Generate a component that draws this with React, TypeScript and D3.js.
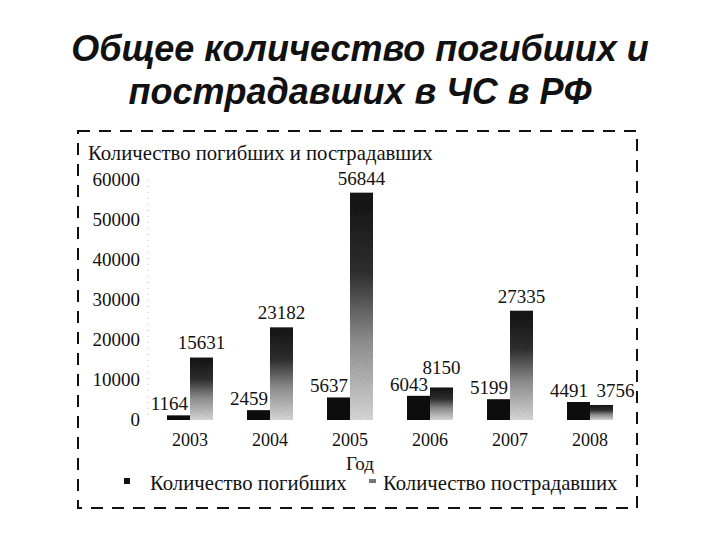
import React from "react";
import * as d3 from "d3";

const years = ["2003", "2004", "2005", "2006", "2007", "2008"];
const deaths = [1164, 2459, 5637, 6043, 5199, 4491];
const injured = [15631, 23182, 56844, 8150, 27335, 3756];
const yTicks = [0, 10000, 20000, 30000, 40000, 50000, 60000];
const seriesNames = ["Количество погибших", "Количество пострадавших"];
const titleLines = ["Общее количество погибших и", "пострадавших в ЧС в РФ"];
const yAxisTitle = "Количество погибших и пострадавших";
const xAxisTitle = "Год";

export default function App() {
  const W = 720, H = 540;
  const x = d3.scaleBand<string>().domain(years).range([150, 630]).padding(0);
  const x1 = d3.scaleBand<string>().domain(["d", "i"]).range([17, 63]).padding(0);
  const y = d3.scaleLinear().domain([0, 60000]).range([420, 180]);
  const serif = "'Liberation Serif', 'Times New Roman', serif";
  const last = years.length - 1;

  return (
    <svg width={W} height={H} style={{ position: "absolute", left: 0, top: 0, background: "#fff" }}>
      <defs>
        <linearGradient id="inj" x1="0" y1="0" x2="0" y2="1">
          <stop offset="0" stopColor="#151515" />
          <stop offset="0.35" stopColor="#333" />
          <stop offset="0.65" stopColor="#999" />
          <stop offset="1" stopColor="#e8e8e8" />
        </linearGradient>
        <filter id="grain" x="0" y="0" width="1" height="1">
          <feTurbulence type="fractalNoise" baseFrequency="0.9" numOctaves="1" seed="3" result="n" />
          <feColorMatrix in="n" type="matrix" values="0 0 0 0 0.45  0 0 0 0 0.45  0 0 0 0 0.45  0 0 0 0.7 0" result="g" />
          <feComposite in="g" in2="SourceGraphic" operator="in" result="gm" />
          <feBlend in="SourceGraphic" in2="gm" mode="multiply" />
        </filter>
      </defs>
      <rect x={0} y={0} width={W} height={H} fill="#fff" />
      {titleLines.map((t, i) => (
        <text key={i} x={360} y={61 + i * 43} textAnchor="middle"
          fontFamily="'Liberation Sans', Arial, sans-serif" fontWeight="bold" fontStyle="italic"
          fontSize={36} fill="#111">{t}</text>
      ))}
      <rect x={78} y={131} width={559} height={377} fill="none" stroke="#111" strokeWidth={2} strokeDasharray="12 9" />
      <text x={88} y={160} fontFamily={serif} fontSize={20.7} fill="#111">{yAxisTitle}</text>
      <line x1={148} x2={148} y1={y(60000)} y2={y(0)} stroke="#bbb" strokeWidth={1} strokeDasharray="1 5" />
      {yTicks.map((t) => (
        <text key={t} x={140} y={y(t) + 6} textAnchor="end" fontFamily={serif} fontSize={19} fill="#111">{t}</text>
      ))}
      {years.map((yr, i) => {
        const gx = x(yr)!;
        const dx = gx + x1("d")!;
        const ix = gx + x1("i")!;
        const bw = x1.bandwidth();
        const cx = gx + x.bandwidth() / 2;
        const deadBase = y(deaths[i]) - 5;
        let injBase = y(injured[i]) - 8;
        // keep the injured label clear of the deaths label when bars are close in height
        if (i !== last && injBase > deadBase - 15) injBase = deadBase - 17;
        return (
          <g key={yr}>
            <rect x={dx} y={y(deaths[i])} width={bw} height={y(0) - y(deaths[i])} fill="#0d0d0d" />
            <rect x={ix} y={y(injured[i])} width={bw} height={y(0) - y(injured[i])} fill="url(#inj)" filter="url(#grain)" />
            <text x={cx - 2} y={deadBase} textAnchor="end" fontFamily={serif} fontSize={19} fill="#111">{deaths[i]}</text>
            <text x={ix + bw / 2 + (i === last ? 14 : 0)} y={injBase} textAnchor="middle" fontFamily={serif} fontSize={19} fill="#111">{injured[i]}</text>
            <text x={cx} y={446} textAnchor="middle" fontFamily={serif} fontSize={18} fill="#111">{yr}</text>
          </g>
        );
      })}
      <text x={360} y={470} textAnchor="middle" fontFamily={serif} fontSize={19} fill="#111">{xAxisTitle}</text>
      <rect x={124} y={478} width={6} height={6} fill="#111" />
      <text x={150} y={490} fontFamily={serif} fontSize={20.7} fill="#111">{seriesNames[0]}</text>
      <rect x={369} y={479} width={7} height={4} fill="#777" />
      <text x={383} y={490} fontFamily={serif} fontSize={20.7} fill="#111">{seriesNames[1]}</text>
    </svg>
  );
}
